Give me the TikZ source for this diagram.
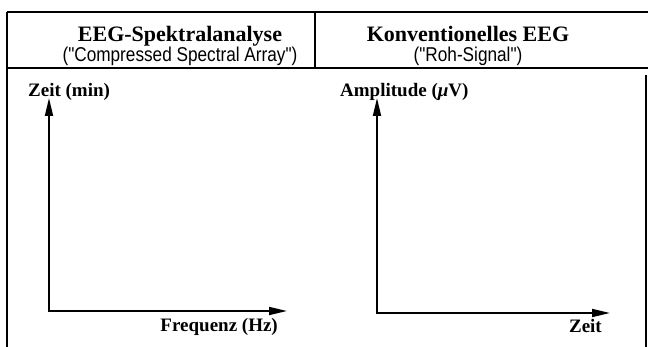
\documentclass[tikz,border=0pt]{standalone}
\usepackage{fontspec}
\setmainfont{Liberation Serif}
\newfontfamily\subfont{Liberation Sans}
\usetikzlibrary{arrows.meta}
\newcommand{\narrowtext}[1]{\scalebox{0.86}[1]{#1}}
\tikzset{
  frame/.style={line width=1.2pt, black},
  axis/.style={line width=1.8pt, black, {Triangle[length=18pt,width=8pt]}-{Triangle[length=18pt,width=8pt]}},
  titletext/.style={inner sep=0pt, anchor=base, font=\fontsize{22}{25}\selectfont\bfseries},
  subtext/.style={inner sep=0pt, anchor=base, font=\fontsize{20}{23}\selectfont\subfont},
  labeltext/.style={inner sep=0pt, font=\fontsize{19}{22}\selectfont\bfseries}
}
\begin{document}
\begin{tikzpicture}[x=1pt,y=-1pt]
\useasboundingbox (0,0) rectangle (648,347);
% frame
\draw[frame] (7,12) -- (648,12);
\draw[frame] (7,68) -- (648,68);
\draw[frame] (7,12) -- (7,347);
\draw[frame] (315,12) -- (315,68);
\draw[frame] (646,75) -- (646,347);
% header texts
\node[titletext] (t1) at (180,42) {EEG-Spektralanalyse};
\node[subtext] (s1) at (180,62) {\narrowtext{("Compressed Spectral Array")}};
\node[titletext] (t2) at (468,42) {Konventionelles EEG};
\node[subtext] (s2) at (468,62) {\narrowtext{("Roh-Signal")}};
% left diagram
\coordinate (o1) at (49,311);
\coordinate (y1) at (49,98);
\coordinate (x1) at (287,311);
\draw[axis] (y1) -- (o1) -- (x1);
\node[labeltext, anchor=base west] (ly1) at (28,97) {Zeit (min)};
\node[labeltext, anchor=base east] (lx1) at (278,331) {Frequenz (Hz)};
% right diagram
\coordinate (o2) at (377,313);
\coordinate (y2) at (377,98);
\coordinate (x2) at (610,313);
\draw[axis] (y2) -- (o2) -- (x2);
\node[labeltext, anchor=base west] (ly2) at (340,97) {Amplitude ({\itshape μ}V)};
\node[labeltext, anchor=base east] (lx2) at (602,333) {Zeit};
\end{tikzpicture}
\end{document}
